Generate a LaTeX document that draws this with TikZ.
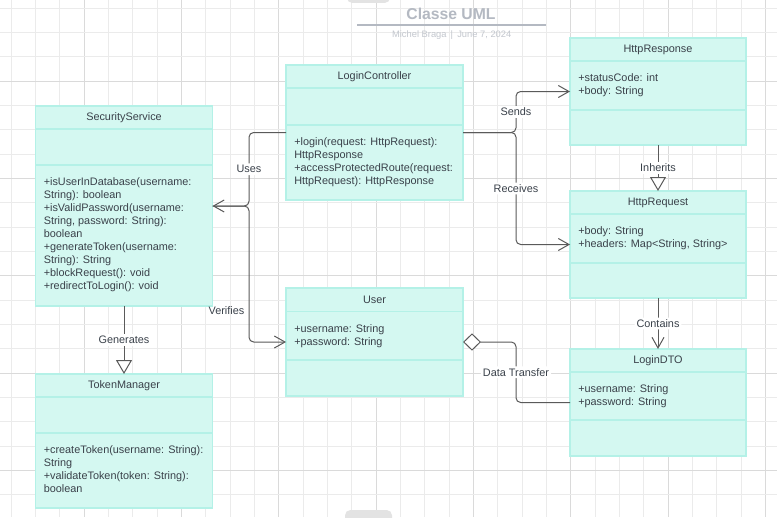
\documentclass[tikz,border=0pt]{standalone}
\usepackage{fontspec}
\setmainfont{Liberation Sans}
\usetikzlibrary{arrows.meta,fit}
\definecolor{boxfill}{RGB}{212,248,241}
\definecolor{boxline}{RGB}{180,241,231}
\definecolor{txtc}{HTML}{3A414A}
\definecolor{connc}{HTML}{5A5A5A}
\definecolor{gridminor}{HTML}{EBEBEB}
\definecolor{gridmajor}{HTML}{DADADA}
\definecolor{titlec}{HTML}{B4B9C2}
\definecolor{subc}{HTML}{C3C7CE}
\definecolor{uigray}{HTML}{E3E3E3}
\newcommand{\fsz}{\fontsize{8.15pt}{9.75pt}\selectfont}
\newcommand{\umlbox}[8]{%
  \node[classbox, fit={(#2,#3) (#4,#5)}] (#1) {};
  \draw[divline] (#2,#6) -- (#4,#6);
  \draw[divline] (#2,#7) -- (#4,#7);
  \node[hdr] (#1-title) at ({(#2+#4)/2},{(#3+#6)/2}) {#8};
}
\tikzset{
  classbox/.style={draw=boxline, fill=boxfill, line width=1pt, inner sep=0pt, outer sep=0pt},
  divline/.style={draw=boxline, line width=1pt},
  hdr/.style={font=\fsz, text=txtc, inner sep=0pt},
  txt/.style={anchor=base west, align=left, inner sep=0pt, font=\fsz, text=txtc},
  conn/.style={draw=connc, line width=0.75pt, rounded corners=3.5pt},
  openarrow/.style={-{Straight Barb[length=8pt,width=9pt]}},
  triarrow/.style={-{Triangle[fill=white,length=10.5pt,width=12pt]}},
  diamstart/.style={{Diamond[fill=white,length=13.5pt,width=13pt]}-},
  lbl/.style={font=\fsz, text=txtc, fill=white, inner sep=1.5pt},
}
\begin{document}
\begin{tikzpicture}[x=0.75pt,y=-0.75pt]
\useasboundingbox (0,0) rectangle (777,517);
\begin{scope}
\clip (0,0) rectangle (777,517);
\fill[white] (0,0) rectangle (777,517);
% grid
\foreach \i in {0,...,31}{
  \pgfmathtruncatemacro{\m}{mod(\i,4)}
  \ifnum\m=3
    \draw[gridmajor, line width=0.75pt] ({11.3+24.33*\i},0) -- ({11.3+24.33*\i},517);
  \else
    \draw[gridminor, line width=0.75pt] ({11.3+24.33*\i},0) -- ({11.3+24.33*\i},517);
  \fi
}
\foreach \j in {0,...,21}{
  \pgfmathtruncatemacro{\m}{mod(\j,4)}
  \ifnum\m=3
    \draw[gridmajor, line width=0.75pt] (0,{8.3+24.33*\j}) -- (777,{8.3+24.33*\j});
  \else
    \draw[gridminor, line width=0.75pt] (0,{8.3+24.33*\j}) -- (777,{8.3+24.33*\j});
  \fi
}
% UI tabs
\fill[uigray, rounded corners=4pt] (347,-6) rectangle (390,3);
\fill[uigray, rounded corners=4pt] (345,510) rectangle (392,524);
\end{scope}

% title
\node[font=\bfseries\fontsize{11.8pt}{14pt}\selectfont, text=titlec, inner sep=0pt] (title) at (451,13.5) {Classe UML};
\draw[titlec, line width=1.5pt] (357,25.3) -- (546,25.3);
\node[font=\fontsize{7pt}{8pt}\selectfont, text=subc, inner sep=0pt] (subtitle) at (451.7,35) {Michel Braga \,|\, June 7, 2024};

% classes (text nodes anchored at the baseline of their last line)
\umlbox{sec}{35.5}{106}{212.5}{306}{129}{165}{SecurityService}
\node[txt] (sec-ops) at (43.5,289.5) {+isUserInDatabase(username:\\String): boolean\\+isValidPassword(username:\\String, password: String):\\boolean\\+generateToken(username:\\String): String\\+blockRequest(): void\\+redirectToLogin(): void};

\umlbox{lc}{286}{65}{463}{200}{88}{125}{LoginController}
\node[txt] (lc-ops) at (294,184.5) {+login(request: HttpRequest):\\HttpResponse\\+accessProtectedRoute(request:\\HttpRequest): HttpResponse};

\umlbox{resp}{570}{38}{746}{145}{61}{110}{HttpResponse}
\node[txt] (resp-attr) at (578,94.5) {+statusCode: int\\+body: String};

\umlbox{req}{570}{191}{746}{298}{214}{263}{HttpRequest}
\node[txt] (req-attr) at (578,247.5) {+body: String\\+headers: Map<String, String>};

\umlbox{user}{286}{288}{463}{396}{311.5}{360}{User}
\node[txt] (user-attr) at (294,345) {+username: String\\+password: String};

\umlbox{dto}{570}{349}{746}{456}{372}{420}{LoginDTO}
\node[txt] (dto-attr) at (578,405.5) {+username: String\\+password: String};

\umlbox{tok}{35.5}{374}{212.5}{508}{397}{433}{TokenManager}
\node[txt] (tok-ops) at (43.5,492.5) {+createToken(username: String):\\String\\+validateToken(token: String):\\boolean};

% connectors
\draw[conn, openarrow] (lc.west) -- ++(-37,0) |- node[lbl, pos=0.25] {Uses} (sec.east);
\draw[conn, openarrow] (sec.east) -- ++(36.5,0) |- (user.west);
\node[font=\fsz, text=txtc, inner sep=1.5pt] (verlbl) at (226.5,311) {Verifies};
\draw[conn, openarrow] (lc.east) -- ++(53,0) |- node[lbl, pos=0.25] {Sends} (resp.west);
\draw[conn, openarrow] (lc.east) -- ++(53,0) |- node[lbl, pos=0.25] {Receives} (req.west);
\draw[conn, diamstart] (user.east) -- ++(53,0) |- node[lbl, pos=0.25] {Data Transfer} (dto.west);
\draw[conn, triarrow] (resp.south) -- node[lbl] {Inherits} (req.north);
\draw[conn, openarrow] (req.south) -- node[lbl] {Contains} (dto.north);
\draw[conn, triarrow] (sec.south) -- node[lbl] {Generates} (tok.north);
\end{tikzpicture}
\end{document}
